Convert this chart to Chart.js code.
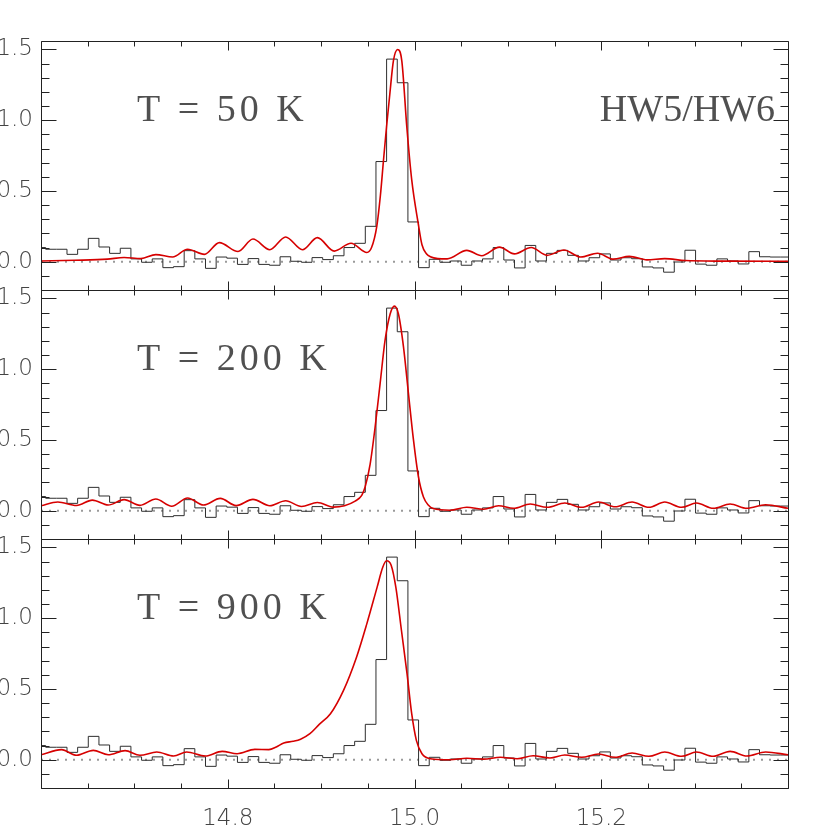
<!DOCTYPE html>
<html>
<head>
<meta charset="utf-8">
<script src="https://cdn.jsdelivr.net/npm/chart.js@4.4.1/dist/chart.umd.min.js"></script>
<style>
  html, body { margin: 0; padding: 0; background: #fff; }
  #wrap { position: relative; width: 830px; height: 830px; overflow: hidden; }
  #wrap canvas { position: absolute; left: -40px; }
</style>
</head>
<body>
<div id="wrap">
  <canvas id="p1" width="870" height="320" style="top:0px"></canvas>
  <canvas id="p2" width="870" height="310" style="top:260px"></canvas>
  <canvas id="p3" width="870" height="321" style="top:509px"></canvas>
</div>
<script>
// observed spectrum (same in every panel), one value per channel
const binStart = 14.5936;
const binWidth = 0.01141;
const binValues = [0.10, 0.088, 0.088, 0.052, 0.088, 0.165, 0.104, 0.059, 0.095, 0.02,
  -0.004, 0.02, -0.042, -0.035, 0.078, 0.02, -0.047, 0.033, 0.025, -0.019,
  0.022, -0.019, -0.025, 0.035, 0.003, -0.004, 0.029, 0.015, 0.042, 0.10,
  0.13, 0.25, 0.708, 1.432, 1.265, 0.281, -0.042, 0.017, -0.004, 0.005,
  -0.025, 0.005, 0.02, 0.10, 0.012, -0.044, 0.115, 0.005, 0.059, 0.08,
  0.045, 0.005, 0.028, 0.055, 0.012, 0.028, 0.021, -0.037, -0.044, -0.074,
  -0.002, 0.081, -0.017, -0.025, 0.02, 0.005, -0.016, 0.071, 0.035, 0.033, 0.033];

// model spectra
const x50 = [14.600, 14.636, 14.671, 14.689, 14.707, 14.723, 14.741, 14.757, 14.775, 14.791,
  14.811, 14.827, 14.845, 14.862, 14.880, 14.896, 14.914, 14.932, 14.949, 14.954,
  14.9596, 14.9635, 14.9667, 14.970, 14.9735, 14.9774, 14.982, 14.9864, 14.9918, 14.997,
  15.004, 15.008, 15.013, 15.017, 15.025, 15.035, 15.056, 15.072, 15.091, 15.107,
  15.125, 15.142, 15.160, 15.178, 15.196, 15.213, 15.230, 15.249, 15.268, 15.290,
  15.330, 15.400];
const y50 = [0.005, 0.010, 0.018, 0.030, 0.022, 0.050, 0.033, 0.088, 0.052, 0.135,
  0.072, 0.160, 0.085, 0.175, 0.085, 0.170, 0.075, 0.130, 0.065, 0.10,
  0.25, 0.47, 0.71, 0.95, 1.18, 1.42, 1.50, 1.42, 0.95, 0.58,
  0.27, 0.12, 0.055, 0.035, 0.022, 0.02, 0.08, 0.042, 0.103, 0.055,
  0.10, 0.045, 0.083, 0.033, 0.06, 0.018, 0.038, 0.013, 0.022, 0.008,
  0.004, 0.003];

const x200 = [14.600, 14.618, 14.638, 14.655, 14.672, 14.689, 14.706, 14.723, 14.740, 14.757,
  14.774, 14.792, 14.809, 14.827, 14.845, 14.862, 14.879, 14.896, 14.913, 14.925,
  14.9364, 14.9435, 14.9471, 14.9525, 14.9578, 14.9632, 14.9685, 14.9739, 14.9785, 14.9828,
  14.9882, 14.9935, 14.9989, 15.0042, 15.0096, 15.015, 15.020, 15.038, 15.056, 15.074,
  15.090, 15.106, 15.124, 15.142, 15.161, 15.179, 15.197, 15.215, 15.233, 15.251,
  15.268, 15.286, 15.302, 15.320, 15.338, 15.356, 15.376, 15.400];
const y200 = [0.035, 0.062, 0.037, 0.075, 0.040, 0.078, 0.038, 0.083, 0.032, 0.090,
  0.040, 0.087, 0.036, 0.080, 0.035, 0.070, 0.030, 0.058, 0.025, 0.035,
  0.068, 0.108, 0.167, 0.33, 0.59, 0.90, 1.205, 1.39, 1.446, 1.39,
  1.158, 0.83, 0.50, 0.24, 0.097, 0.038, 0.015, 0.003, 0.024, 0.010,
  0.035, 0.017, 0.047, 0.024, 0.054, 0.024, 0.061, 0.028, 0.061, 0.024,
  0.061, 0.024, 0.054, 0.017, 0.047, 0.017, 0.042, 0.017];

const x900 = [14.600, 14.622, 14.638, 14.656, 14.672, 14.690, 14.706, 14.724, 14.742, 14.756,
  14.776, 14.794, 14.810, 14.829, 14.844, 14.852, 14.860, 14.870, 14.878, 14.888,
  14.898, 14.910, 14.924, 14.938, 14.949, 14.960, 14.966, 14.970, 14.975, 14.980,
  14.986, 14.992, 14.997, 15.002, 15.008, 15.017, 15.038, 15.056, 15.074, 15.092,
  15.110, 15.127, 15.145, 15.161, 15.179, 15.197, 15.215, 15.233, 15.251, 15.268,
  15.286, 15.302, 15.320, 15.338, 15.356, 15.376, 15.400];
const y900 = [0.035, 0.071, 0.031, 0.066, 0.035, 0.064, 0.031, 0.054, 0.026, 0.054,
  0.026, 0.059, 0.042, 0.073, 0.071, 0.09, 0.118, 0.13, 0.145, 0.184,
  0.25, 0.325, 0.49, 0.726, 0.962, 1.22, 1.36, 1.406, 1.375, 1.22,
  0.915, 0.608, 0.325, 0.137, 0.042, 0.007, 0.0, 0.01, 0.004, 0.017,
  0.007, 0.028, 0.012, 0.033, 0.017, 0.040, 0.017, 0.047, 0.024, 0.054,
  0.024, 0.054, 0.024, 0.059, 0.026, 0.054, 0.035];

const panelLabels = ['T = 50 K', 'T = 200 K', 'T = 900 K'];
const xTickLabels = [14.8, 15.0, 15.2];
const yTickLabels = [0.0, 0.5, 1.0, 1.5];
const xMin = 14.6, xMax = 15.4, yMin = -0.2, yMax = 1.56;

const frameTicks = {
    id: 'frameTicks',
    afterDatasetsDraw(chart) {
        const {ctx, chartArea: a, scales: {x, y}} = chart;
        const L = Math.round(a.left) + 0.5, R = Math.round(a.right) + 0.5;
        const T = Math.round(a.top) + 0.5, B = Math.round(a.bottom) + 0.5;
        ctx.save();
        ctx.strokeStyle = '#222';
        ctx.lineWidth = 1;
        ctx.beginPath();
        const nx = Math.round((xMax - xMin) / 0.05);
        for (let i = 0; i <= nx; i++) {
            const v = xMin + i * 0.05;
            const px = Math.round(x.getPixelForValue(v)) + 0.5;
            const len = (i % 4 === 0) ? 9 : 5;
            ctx.moveTo(px, T); ctx.lineTo(px, T + len);
            ctx.moveTo(px, B); ctx.lineTo(px, B - len);
        }
        for (let i = 0; i <= 17; i++) {
            const v = -0.2 + i * 0.1;
            const py = Math.round(y.getPixelForValue(v)) + 0.5;
            const len = ((i - 2) % 5 === 0) ? 15 : 8;
            ctx.moveTo(L, py); ctx.lineTo(L + len, py);
            ctx.moveTo(R, py); ctx.lineTo(R - len, py);
        }
        ctx.moveTo(L, T); ctx.lineTo(R, T);
        ctx.lineTo(R, B); ctx.lineTo(L, B); ctx.lineTo(L, T);
        ctx.stroke();
        ctx.restore();
    }
};

const panelText = {
    id: 'panelText',
    afterDraw(chart, args, opts) {
        const {ctx, chartArea: a} = chart;
        ctx.save();
        ctx.font = '38px "Liberation Serif"';
        ctx.fillStyle = '#505050';
        ctx.textBaseline = 'alphabetic';
        ctx.letterSpacing = '4px';
        ctx.fillText(opts.label, a.left + 96, a.top + 80);
        if (opts.tag) {
            ctx.letterSpacing = '0px';
            ctx.textAlign = 'right';
            ctx.fillText(opts.tag, a.left + 734, a.top + 80);
        }
        ctx.restore();
    }
};

function makePanel(canvasId, modelX, modelY, label, tag, showX, pad) {
    const ctx = document.getElementById(canvasId).getContext('2d');
    const hist = binValues.map((v, i) => ({x: binStart + i * binWidth, y: v}));
    hist.push({x: binStart + binValues.length * binWidth, y: binValues[binValues.length - 1]});

    return new Chart(ctx, {
        type: 'line',
        data: {
            datasets: [{
                data: modelX.map((v, i) => ({x: v, y: modelY[i]})),
                borderColor: 'rgb(214, 0, 0)',
                borderWidth: 1.6,
                pointRadius: 0,
                cubicInterpolationMode: 'monotone',
                fill: false,
                order: 0
            }, {
                data: hist,
                borderColor: '#2e2e2e',
                borderWidth: 1,
                pointRadius: 0,
                stepped: true,
                fill: false,
                order: 1
            }, {
                data: [{x: xMin, y: 0}, {x: xMax, y: 0}],
                borderColor: '#9a9a9a',
                borderWidth: 2,
                borderDash: [2, 6],
                pointRadius: 0,
                fill: false,
                order: 2
            }]
        },
        options: {
            responsive: false,
            animation: false,
            events: [],
            layout: {padding: pad},
            plugins: {
                legend: {display: false},
                tooltip: {enabled: false},
                panelText: {label: label, tag: tag}
            },
            scales: {
                x: {
                    type: 'linear',
                    min: xMin,
                    max: xMax,
                    display: showX,
                    grid: {display: false, drawTicks: false},
                    border: {display: false},
                    afterFit: s => { s.height = showX ? 42 : 0; },
                    ticks: {
                        stepSize: 0.05,
                        autoSkip: false,
                        includeBounds: false,
                        maxRotation: 0,
                        padding: 17,
                        color: '#444',
                        font: {family: '"DejaVu Sans"', size: 23, weight: '200'},
                        callback: function (value) {
                            const v = Math.round(value * 100) / 100;
                            return xTickLabels.includes(v) ? v.toFixed(1) : '';
                        }
                    }
                },
                y: {
                    min: yMin,
                    max: yMax,
                    grid: {display: false, drawTicks: false},
                    border: {display: false},
                    afterFit: s => { s.width = 81; },
                    ticks: {
                        stepSize: 0.1,
                        autoSkip: false,
                        includeBounds: false,
                        padding: 8,
                        color: '#444',
                        font: {family: '"DejaVu Sans"', size: 23, weight: '200'},
                        callback: function (value) {
                            const v = Math.round(value * 10) / 10;
                            return yTickLabels.includes(v) ? v.toFixed(1) : '';
                        }
                    }
                }
            }
        },
        plugins: [frameTicks, panelText]
    });
}

makePanel('p1', x50, y50, panelLabels[0], 'HW5/HW6', false, {top: 41, bottom: 30, left: 0, right: 42});
makePanel('p2', x200, y200, panelLabels[1], null, false, {top: 30, bottom: 31, left: 0, right: 42});
makePanel('p3', x900, y900, panelLabels[2], null, true, {top: 30, bottom: 0, left: 0, right: 42});
</script>
</body>
</html>
